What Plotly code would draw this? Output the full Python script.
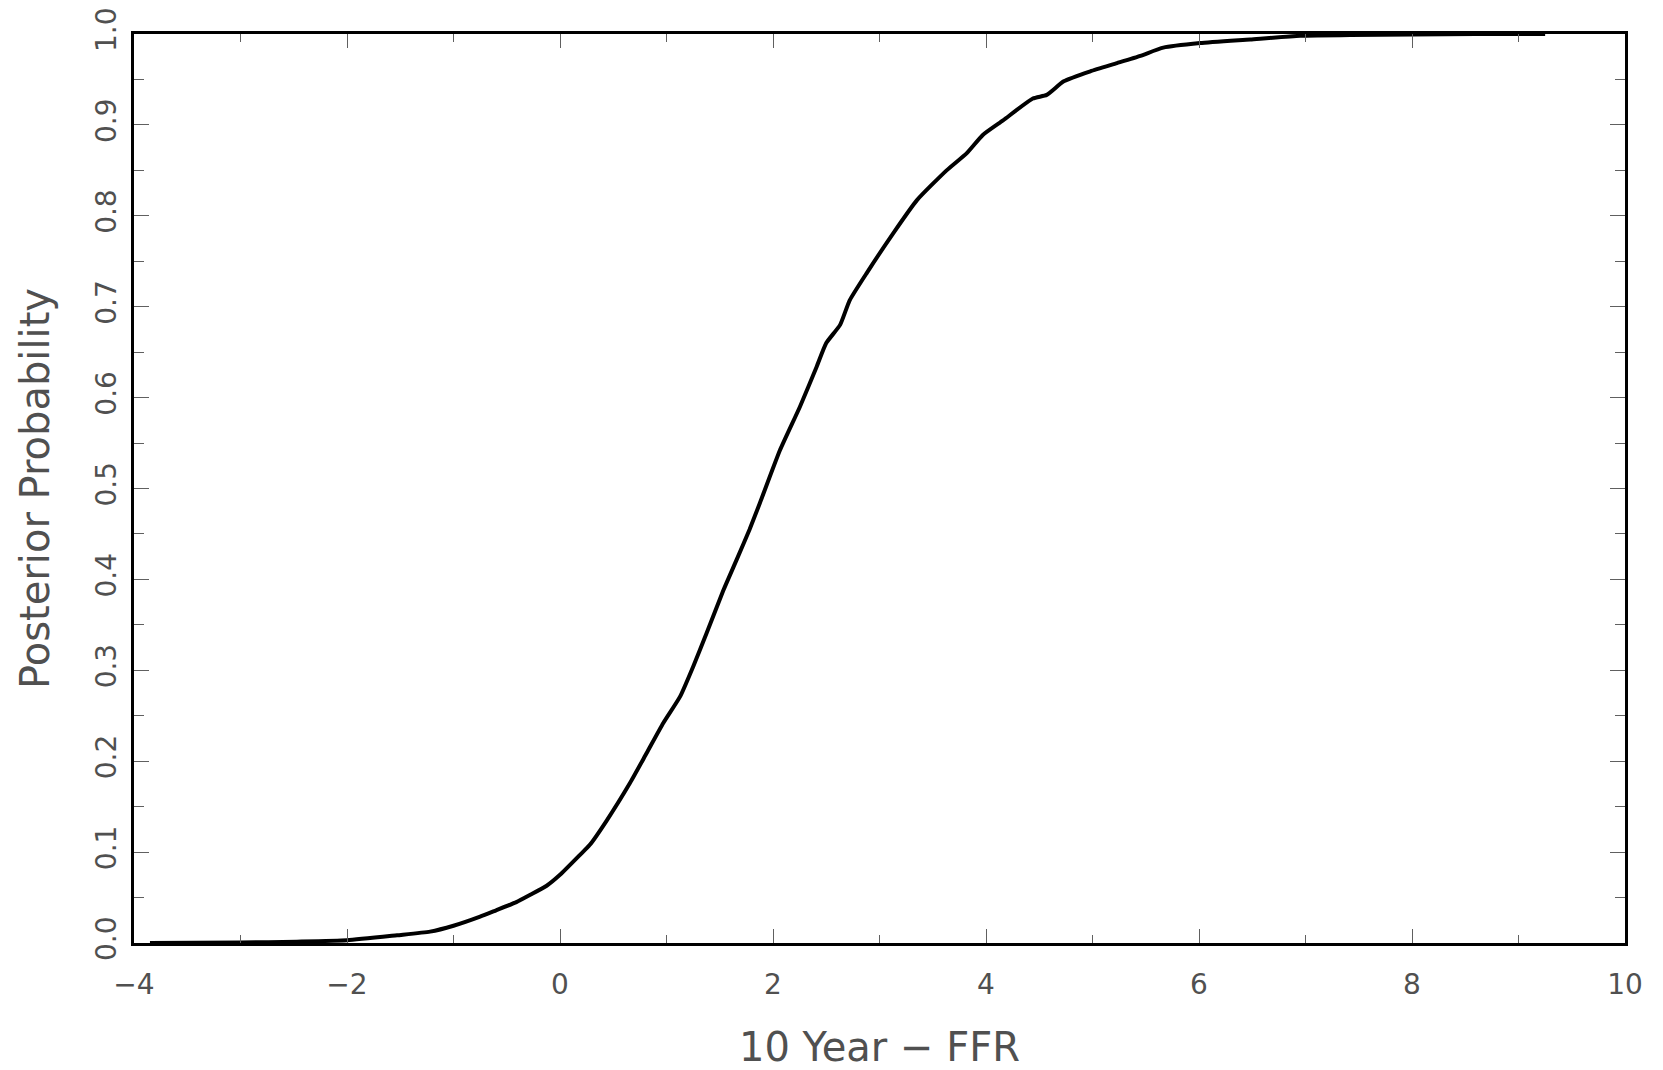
import plotly.graph_objects as go

# Values
spread = [-3.85, -3.0, -2.47, -2.0, -1.53, -1.22, -1.0, -0.75, -0.6, -0.41, -0.28, -0.125,
          0.0, 0.188, 0.28, 0.44, 0.657, 0.814, 0.97, 1.127, 1.25, 1.377, 1.534, 1.66,
          1.78, 1.877, 2.065, 2.253, 2.41, 2.50, 2.63, 2.72, 2.88, 3.13, 3.35, 3.63,
          3.82, 3.97, 4.16, 4.44, 4.57, 4.73, 4.98, 5.23, 5.45, 5.665, 6.01, 6.48,
          6.95, 7.42, 8.0, 8.6, 9.25]
posterior = [0.0, 0.0005, 0.0015, 0.003, 0.0085, 0.0125, 0.019, 0.029, 0.036, 0.045, 0.053, 0.063,
             0.075, 0.097, 0.108, 0.135, 0.176, 0.209, 0.242, 0.271, 0.304, 0.341, 0.388, 0.422,
             0.455, 0.484, 0.542, 0.590, 0.634, 0.660, 0.680, 0.707, 0.737, 0.781, 0.817, 0.850,
             0.869, 0.889, 0.905, 0.929, 0.933, 0.948, 0.959, 0.968, 0.976, 0.985, 0.990, 0.994,
             0.998, 0.999, 0.9995, 1.0, 1.0]

x_title = "10 Year − FFR"
y_title = "Posterior Probability"

TEXT = "#505050"
TICK = "#606060"
FONT = "DejaVu Sans"

fig = go.Figure()
fig.add_trace(go.Scatter(x=spread, y=posterior, mode="lines",
                         line=dict(color="black", width=4, shape="spline", smoothing=0.5),
                         showlegend=False))

fig.update_layout(
    width=1663, height=1070,
    margin=dict(l=134, r=38, t=34, b=127),
    paper_bgcolor="white", plot_bgcolor="white",
    font=dict(family=FONT, color=TEXT, size=28),
)

fig.update_xaxes(
    range=[-4, 10], tick0=-4, dtick=2, automargin=False,
    showgrid=False, zeroline=False,
    showline=True, linecolor="black", linewidth=3, mirror="ticks",
    ticks="inside", ticklen=14, tickwidth=1, tickcolor=TICK,
    tickfont=dict(family=FONT, size=28, color=TEXT),
    ticklabelstandoff=14,
    minor=dict(dtick=1, ticks="inside", ticklen=8, tickwidth=1, tickcolor=TICK, showgrid=False),
    title=dict(text=x_title, font=dict(family=FONT, size=40, color=TEXT), standoff=34),
)
fig.update_yaxes(
    range=[0, 1], dtick=0.1, tickformat=".1f", tickangle=-90, automargin=False,
    showgrid=False, zeroline=False,
    showline=True, linecolor="black", linewidth=3, mirror="ticks",
    ticks="inside", ticklen=15, tickwidth=1, tickcolor=TICK,
    tickfont=dict(family=FONT, size=28, color=TEXT),
    ticklabelstandoff=4,
    minor=dict(dtick=0.05, ticks="inside", ticklen=10, tickwidth=1, tickcolor=TICK, showgrid=False),
    title=dict(text=y_title, font=dict(family=FONT, size=40, color=TEXT), standoff=28),
)

fig.write_html("out.html")
